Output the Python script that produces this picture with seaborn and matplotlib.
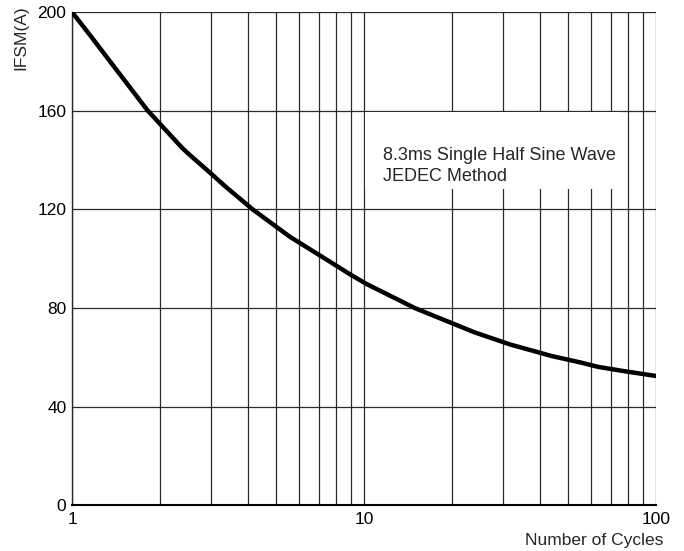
import numpy as np
import pandas as pd
import seaborn as sns
import matplotlib.pyplot as plt
from matplotlib.patches import Rectangle
from matplotlib.ticker import LogLocator, NullFormatter, FixedLocator

# values
cycles = [1, 1.14, 1.34, 1.81, 2.39, 2.57, 2.97, 3.36, 4.18, 5.58, 7.65, 8.96, 10.2,
          14.95, 23.9, 31.6, 43.9, 55.5, 63.3, 76.4, 100]
ifsm = [200, 191.4, 180.5, 160.3, 144.8, 141.4, 134.9, 129.2, 119.8, 108.9, 98.8, 93.7, 89.8,
        80, 70.2, 65.3, 60.6, 57.9, 56.2, 54.6, 52.5]

y_ticks = [0, 40, 80, 120, 160, 200]
x_ticks = [1, 10, 100]
x_ticklabels = ["1", "10", "100"]

df = pd.DataFrame({"Cycles": cycles, "IFSM": ifsm})

sns.set_theme(style="white")
plt.rcParams["font.family"] = ["Liberation Sans", "DejaVu Sans"]

fig = plt.figure(figsize=(6.84, 5.51), dpi=100)
ax = fig.add_axes([0.1053, 0.0826, 0.959 - 0.1053, 0.978 - 0.0826])

sns.lineplot(data=df, x="Cycles", y="IFSM", color="black", linewidth=3.2, ax=ax, zorder=3,
             solid_joinstyle="round", solid_capstyle="round")

ax.set_xscale("log")
ax.set_xlim(1, 100)
ax.set_ylim(0, 200)

ax.xaxis.set_major_locator(FixedLocator(x_ticks))
ax.set_xticklabels(x_ticklabels)
ax.xaxis.set_minor_locator(LogLocator(base=10, subs=np.arange(2, 10)))
ax.xaxis.set_minor_formatter(NullFormatter())
ax.set_yticks(y_ticks)

ax.set_axisbelow(True)
ax.grid(which="both", axis="x", color="#2a2a2a", linewidth=0.9)
ax.grid(which="major", axis="y", color="#2a2a2a", linewidth=0.9)

ax.tick_params(which="both", length=0, labelsize=12.5, colors="black")
ax.tick_params(axis="x", pad=5)
ax.tick_params(axis="y", pad=4)

for side in ["top", "right"]:
    ax.spines[side].set_visible(False)
ax.spines["left"].set_color("#2a2a2a")
ax.spines["left"].set_linewidth(1.0)
ax.spines["bottom"].set_color("black")
ax.spines["bottom"].set_linewidth(1.5)

ax.set_xlabel("")
ax.set_ylabel("")

# white box behind the note
ax.add_patch(Rectangle((10.1, 128.3), 76.0 - 10.1, 31.2, facecolor="white",
                       edgecolor="none", zorder=1))
ax.text(11.6, 142, "8.3ms Single Half Sine Wave", fontsize=13, va="center", ha="left", zorder=2)
ax.text(11.6, 133.3, "JEDEC Method", fontsize=13, va="center", ha="left", zorder=2)

fig.text(21 / 684, 1 - 38 / 551, "IFSM(A)", rotation=90, fontsize=12.5, ha="center", va="center")
fig.text(663 / 684, 1 - 541 / 551, "Number of Cycles", fontsize=12.5, ha="right", va="center")

fig.savefig("out.png", dpi=100)
